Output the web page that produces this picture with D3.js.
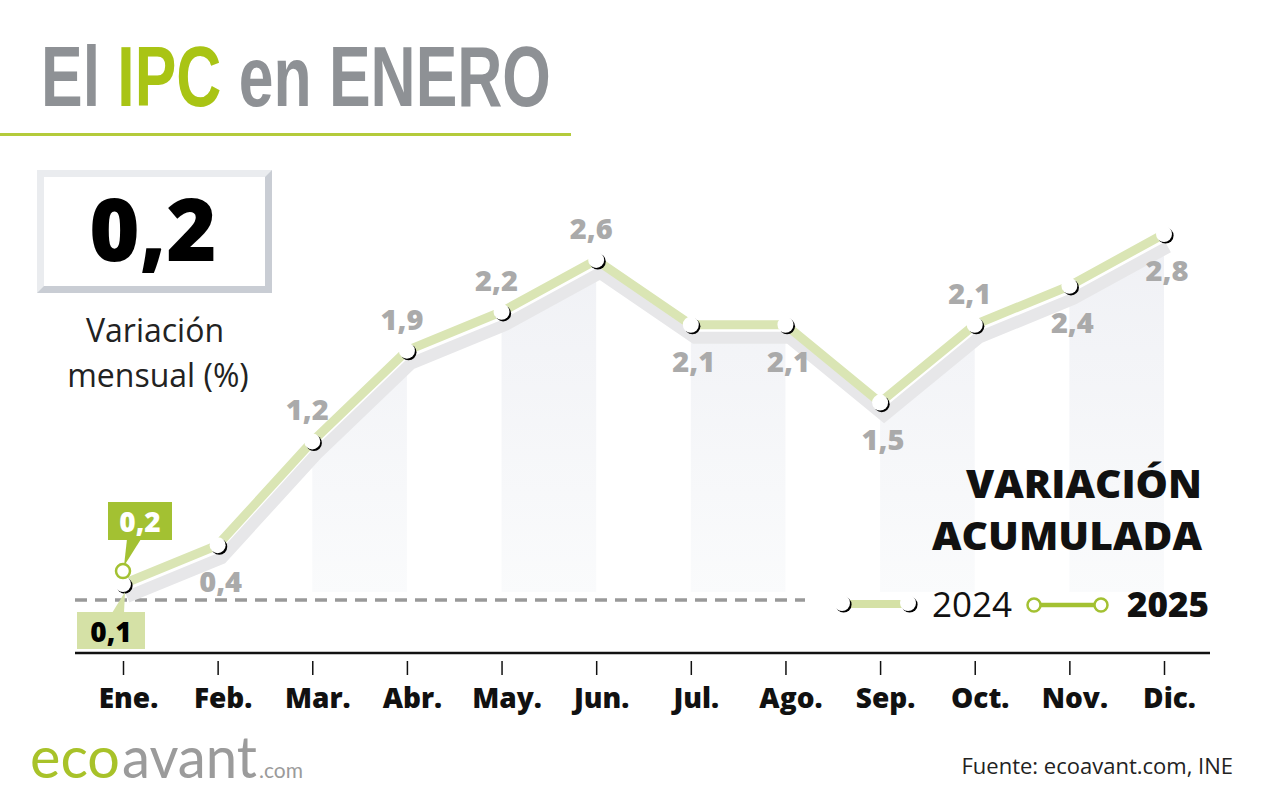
<!DOCTYPE html>
<html><head><meta charset="utf-8">
<script src="https://cdn.jsdelivr.net/npm/d3@7"></script>
<style>body{margin:0;background:#fff} svg{display:block}</style>
</head><body>
<svg id="c" width="1279" height="799"></svg>
<script>
// ---------- data ----------
const months = ["Ene.","Feb.","Mar.","Abr.","May.","Jun.","Jul.","Ago.","Sep.","Oct.","Nov.","Dic."];
const values2024 = [0.1,0.4,1.2,1.9,2.2,2.6,2.1,2.1,1.5,2.1,2.4,2.8];
const values2025 = [0.2];
const labelSide2024 = ["box","below","above","above","above","above","below","below","below","above","below","below"];
const shadedPairs = [["Mar.","Abr."],["May.","Jun."],["Jul.","Ago."],["Sep.","Oct."],["Nov.","Dic."]];
const monthlyValue = "0,2";
const legendYears = ["2024","2025"];
const titleWords = ["El ","IPC"," en ENERO"];

const fmt = v => d3.format(".1f")(v).replace(".", ",");
const svg = d3.select("#c");
const OS = "'Open Sans', 'DejaVu Sans', sans-serif";

const x = d3.scalePoint().domain(months).range([123, 1164]);
const y = d3.scaleLinear().domain([0, 2.8]).range([597, 234]);

const d2024 = months.map((m, i) => ({m, v: values2024[i], side: labelSide2024[i]}));
const d2025 = values2025.map((v, i) => ({m: months[i], v}));

// ---------- defs ----------
const defs = svg.append("defs");
const grad = defs.append("linearGradient").attr("id","bandGrad").attr("x1",0).attr("x2",0).attr("y1",0).attr("y2",1);
grad.append("stop").attr("offset","0%").attr("stop-color","#f0f1f5");
grad.append("stop").attr("offset","100%").attr("stop-color","#fafbfc");
shadedPairs.forEach((p, i) => {
  defs.append("clipPath").attr("id","band"+i).append("rect")
    .attr("x", x(p[0])).attr("width", x(p[1]) - x(p[0]))
    .attr("y", 0).attr("height", 799);
});

// ---------- title ----------
const title = svg.append("text").attr("x", 0).attr("y", 0)
  .attr("font-family", "'Liberation Sans Narrow', 'Liberation Sans', sans-serif")
  .attr("font-weight", 700).attr("font-size", 85).attr("fill", "#8e9195")
  .attr("xml:space", "preserve").style("white-space", "pre");
titleWords.forEach((w, i) => title.append("tspan").attr("fill", i === 1 ? "#a9c414" : "#8e9195").text(w));
const tLen = title.node().getComputedTextLength();
title.attr("transform", `translate(41,106) scale(${510 / tLen},1)`);
svg.append("rect").attr("x", 0).attr("y", 133).attr("width", 571).attr("height", 3).attr("fill", "#b4cb3b");

// ---------- monthly value box ----------
svg.append("rect").attr("x", 37).attr("y", 170).attr("width", 235).attr("height", 123).attr("fill", "#c9cdd4");
svg.append("polygon").attr("points", "37,170 272,170 265,177 44,177 44,286 37,293").attr("fill", "#eaecef");
svg.append("rect").attr("x", 44).attr("y", 177).attr("width", 221).attr("height", 109).attr("fill", "#fff");
svg.append("text").attr("x", 153).attr("y", 261).attr("text-anchor", "middle")
  .attr("font-family", OS).attr("font-weight", 800).attr("font-size", 86).attr("fill", "#000")
  .text(monthlyValue);
svg.append("text").attr("x", 155).attr("y", 342).attr("text-anchor", "middle")
  .attr("font-family", OS).attr("font-size", 32).attr("fill", "#222").text("Variación");
svg.append("text").attr("x", 158).attr("y", 387).attr("text-anchor", "middle")
  .attr("font-family", OS).attr("font-size", 32).attr("fill", "#222").text("mensual (%)");

// ---------- shaded bands under the shadow line ----------
const SX = 4, SY = 13;
const area = d3.area().x(d => x(d.m) + SX).y0(592).y1(d => y(d.v) + SY);
shadedPairs.forEach((p, i) => {
  svg.append("path").datum(d2024).attr("d", area)
    .attr("fill", "url(#bandGrad)").attr("clip-path", `url(#band${i})`);
});

// zero dashed line
svg.append("line").attr("x1", 75).attr("x2", 805).attr("y1", y(0) + 3).attr("y2", y(0) + 3)
  .attr("stroke", "#999").attr("stroke-width", 3.5).attr("stroke-dasharray", "12,8");

// shadow line
const line = d3.line().x(d => x(d.m)).y(d => y(d.v));
svg.append("path").datum(d2024).attr("d", line).attr("transform", `translate(${SX},${SY})`)
  .attr("fill", "none").attr("stroke", "#e7e7e9").attr("stroke-width", 12).attr("stroke-linejoin", "miter");

// 2024 line
svg.append("path").datum(d2024).attr("d", line)
  .attr("fill", "none").attr("stroke", "#dae5b4").attr("stroke-width", 9).attr("stroke-linejoin", "miter");

// 2024 dots
function dot2024(g, cx, cy) {
  g.append("circle").attr("cx", cx + 1.6).attr("cy", cy + 1.6).attr("r", 8).attr("fill", "#000");
  g.append("circle").attr("cx", cx).attr("cy", cy).attr("r", 8).attr("fill", "#fff");
}
const dotsG = svg.append("g");
d2024.forEach(d => dot2024(dotsG, x(d.m), y(d.v)));

// 2024 labels
const lab = svg.append("g").attr("font-family", OS).attr("font-weight", 800)
  .attr("font-size", 29).attr("fill", "#aaaaaa").attr("text-anchor", "middle");
d2024.filter(d => d.side !== "box").forEach(d => {
  const above = d.side === "above";
  lab.append("text")
    .attr("x", x(d.m) + (above ? -5 : 3))
    .attr("y", y(d.v) + (above ? -21 : 47))
    .text(fmt(d.v));
});

// Ene 2024 callout box
const e24 = d2024[0];
svg.append("polygon")
  .attr("points", `${x(e24.m) - 11},613 ${x(e24.m) + 1},613 ${x(e24.m) + 2},${y(e24.v) + 8}`)
  .attr("fill", "#d5e1a6");
svg.append("rect").attr("x", 77).attr("y", 612).attr("width", 68).attr("height", 37).attr("fill", "#d5e1a6");
svg.append("text").attr("x", 111).attr("y", 642).attr("text-anchor", "middle")
  .attr("font-family", OS).attr("font-weight", 800).attr("font-size", 28).attr("fill", "#000")
  .text(fmt(e24.v));

// 2025 callout + dot
d2025.forEach(d => {
  const cx = x(d.m), cy = y(d.v);
  svg.append("polygon").attr("points", `${cx + 4},539 ${cx + 18},539 ${cx + 1},${cy - 5}`).attr("fill", "#a3c132");
  svg.append("rect").attr("x", 108).attr("y", 502).attr("width", 64).attr("height", 38).attr("fill", "#a3c132");
  svg.append("text").attr("x", 140).attr("y", 532).attr("text-anchor", "middle")
    .attr("font-family", OS).attr("font-weight", 800).attr("font-size", 28).attr("fill", "#fff")
    .text(fmt(d.v));
  svg.append("circle").attr("cx", cx).attr("cy", cy).attr("r", 7)
    .attr("fill", "#fff").attr("stroke", "#a3c132").attr("stroke-width", 2.5);
});

// ---------- axis ----------
svg.append("line").attr("x1", 75).attr("x2", 1210).attr("y1", 653).attr("y2", 653)
  .attr("stroke", "#111").attr("stroke-width", 2.5);
const ax = svg.append("g").attr("transform", "translate(0,661)")
  .call(d3.axisBottom(x).tickSize(14).tickSizeOuter(0));
ax.select(".domain").remove();
ax.selectAll(".tick line").attr("stroke", "#111").attr("stroke-width", 1.5);
ax.selectAll(".tick text").attr("y", 47).attr("dy", 0).attr("dx", 5)
  .attr("font-family", OS).attr("font-weight", 800).attr("font-size", 28).attr("fill", "#111");

// ---------- legend ----------
const lg = svg.append("g").attr("font-family", OS);
lg.append("text").attr("x", 1202).attr("y", 498).attr("text-anchor", "end")
  .attr("font-weight", 800).attr("font-size", 38).attr("textLength", 236).attr("lengthAdjust", "spacingAndGlyphs")
  .attr("fill", "#111").text("VARIACIÓN");
lg.append("text").attr("x", 1202).attr("y", 550).attr("text-anchor", "end")
  .attr("font-weight", 800).attr("font-size", 38).attr("textLength", 270).attr("lengthAdjust", "spacingAndGlyphs")
  .attr("fill", "#111").text("ACUMULADA");
lg.append("line").attr("x1", 842).attr("x2", 908).attr("y1", 604).attr("y2", 604)
  .attr("stroke", "#d5e1a6").attr("stroke-width", 8);
dot2024(lg, 842, 603);
dot2024(lg, 908, 603);
lg.append("text").attr("x", 932).attr("y", 617).attr("font-size", 35).attr("fill", "#111").text(legendYears[0]);
lg.append("line").attr("x1", 1034).attr("x2", 1101).attr("y1", 605).attr("y2", 605)
  .attr("stroke", "#a3c132").attr("stroke-width", 4.5);
[1034, 1101].forEach(cx => lg.append("circle").attr("cx", cx).attr("cy", 605).attr("r", 6.5)
  .attr("fill", "#fff").attr("stroke", "#a3c132").attr("stroke-width", 2.5));
lg.append("text").attr("x", 1127).attr("y", 617).attr("font-weight", 800).attr("font-size", 35)
  .attr("fill", "#111").text(legendYears[1]);

// ---------- footer ----------
const LF = "Lato, 'Open Sans', sans-serif";
svg.append("text").attr("x", 30).attr("y", 778).attr("font-family", LF).attr("font-weight", 400)
  .attr("font-size", 58).attr("fill", "#a8c229").attr("textLength", 90).attr("lengthAdjust", "spacingAndGlyphs").text("eco");
svg.append("text").attr("x", 122).attr("y", 778).attr("font-family", LF).attr("font-weight", 400)
  .attr("font-size", 58).attr("fill", "#9b9b9b").attr("textLength", 135).attr("lengthAdjust", "spacingAndGlyphs").text("avant");
svg.append("text").attr("x", 259).attr("y", 778).attr("font-family", LF).attr("font-weight", 400)
  .attr("font-size", 21).attr("fill", "#9b9b9b").text(".com");
svg.append("text").attr("x", 1233).attr("y", 774).attr("text-anchor", "end")
  .attr("font-family", OS).attr("font-size", 22).attr("fill", "#222").text("Fuente: ecoavant.com, INE");
</script>
</body></html>
